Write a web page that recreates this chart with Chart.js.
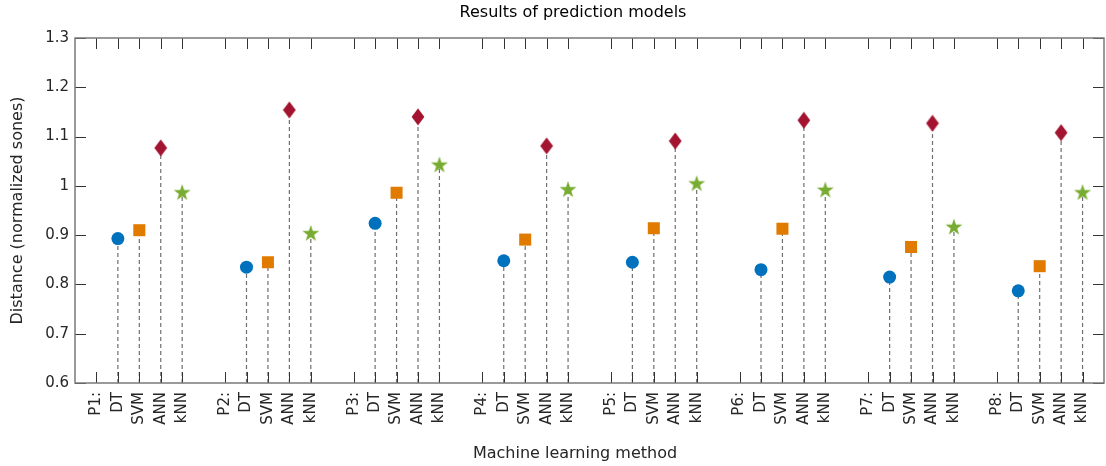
<!DOCTYPE html>
<html>
<head>
<meta charset="utf-8">
<script src="https://cdn.jsdelivr.net/npm/chart.js@4"></script>
<style>
  body { margin: 0; background: #fff; }
  #wrap { width: 1106px; height: 466px; }
</style>
</head>
<body>
<div id="wrap"><canvas id="myChart"></canvas></div>
<script>
const groups = ['P1:', 'P2:', 'P3:', 'P4:', 'P5:', 'P6:', 'P7:', 'P8:'];
const methods = ['DT', 'SVM', 'ANN', 'kNN'];
const dtVals  = [0.893, 0.835, 0.924, 0.848, 0.845, 0.830, 0.815, 0.787];
const svmVals = [0.910, 0.845, 0.986, 0.891, 0.914, 0.913, 0.876, 0.837];
const annVals = [1.077, 1.154, 1.140, 1.081, 1.091, 1.133, 1.127, 1.108];
const knnVals = [0.987, 0.904, 1.043, 0.993, 1.005, 0.992, 0.917, 0.987];
const yTicks = [0.6, 0.7, 0.8, 0.9, 1.0, 1.1, 1.2, 1.3];

const chartTitle = 'Results of prediction models';
const xTitle = 'Machine learning method';
const yTitle = 'Distance (normalized sones)';

const fontFam = "'DejaVu Sans', 'Liberation Sans', Arial, sans-serif";
const textColor = '#262626';
const baseY = 0.6;

// each group takes 6 slots: label, 4 methods, empty gap
let xTickPos = [];
let xTickLabels = [];
groups.forEach((g, i) => {
  xTickPos.push(1 + 6 * i);
  xTickLabels.push(g);
  methods.forEach((m, j) => {
    xTickPos.push(2 + j + 6 * i);
    xTickLabels.push(m);
  });
});

function points(vals, offset) {
  return vals.map((v, i) => ({ x: 2 + offset + 6 * i, y: v }));
}
function stems(vals, offset) {
  let out = [];
  vals.forEach((v, i) => {
    const x = 2 + offset + 6 * i;
    out.push({ x: x, y: baseY }, { x: x, y: v }, { x: x, y: null });
  });
  return out;
}

// marker images for the diamond and star
function diamondImg(color) {
  const c = document.createElement('canvas');
  c.width = 14; c.height = 18;
  const g = c.getContext('2d');
  g.fillStyle = color;
  g.beginPath();
  g.moveTo(7, 0.6); g.lineTo(13.4, 9); g.lineTo(7, 17.4); g.lineTo(0.6, 9);
  g.closePath();
  g.fill();
  return c;
}
function starImg(color) {
  const c = document.createElement('canvas');
  c.width = 20; c.height = 20;
  const g = c.getContext('2d');
  const R = 8.9, r = R * 0.382, cx = 10, cy = 10.6;
  g.fillStyle = color;
  g.beginPath();
  for (let k = 0; k < 10; k++) {
    const rad = k % 2 === 0 ? R : r;
    const a = -Math.PI / 2 + k * Math.PI / 5;
    const px = cx + rad * Math.cos(a), py = cy + rad * Math.sin(a);
    if (k === 0) g.moveTo(px, py); else g.lineTo(px, py);
  }
  g.closePath();
  g.fill();
  return c;
}

const blue = '#0072BD';
const orange = '#E07B00';
const red = '#A2142F';
const green = '#77AC30';

const stemStyle = {
  type: 'line',
  showLine: true,
  spanGaps: false,
  borderColor: '#707070',
  borderWidth: 1.2,
  borderDash: [4, 3],
  pointRadius: 0,
  order: 10
};

// box with inward ticks on all four sides, plus the title and x label
// (placed a bit left of the plot centre, as in the original figure)
const boxPlugin = {
  id: 'box',
  afterDraw(chart) {
    const { ctx, chartArea: a, scales: { x, y } } = chart;
    ctx.save();
    ctx.strokeStyle = '#333';
    ctx.lineWidth = 1;
    ctx.beginPath();
    xTickPos.forEach(v => {
      const px = Math.round(x.getPixelForValue(v)) + 0.5;
      ctx.moveTo(px, a.bottom); ctx.lineTo(px, a.bottom - 11);
      ctx.moveTo(px, a.top); ctx.lineTo(px, a.top + 11);
    });
    yTicks.forEach(v => {
      const py = Math.round(y.getPixelForValue(v)) + 0.5;
      ctx.moveTo(a.left, py); ctx.lineTo(a.left + 11, py);
      ctx.moveTo(a.right, py); ctx.lineTo(a.right - 11, py);
    });
    ctx.stroke();
    ctx.strokeStyle = '#7a7a7a';
    ctx.lineWidth = 1.5;
    ctx.strokeRect(a.left, a.top, a.right - a.left, a.bottom - a.top);

    ctx.font = '16px ' + fontFam;
    ctx.textAlign = 'center';
    ctx.textBaseline = 'middle';
    ctx.fillStyle = '#000';
    ctx.fillText(chartTitle, 573, 12.6);
    ctx.fillStyle = textColor;
    ctx.fillText(xTitle, 575, 453.4);
    ctx.restore();
  }
};

const ctx = document.getElementById('myChart');
const myChart = new Chart(ctx, {
  type: 'scatter',
  data: {
    datasets: [
      { label: 'DT', data: points(dtVals, 0), pointStyle: 'circle', pointRadius: 6.5,
        backgroundColor: blue, borderColor: blue, borderWidth: 0, order: 0 },
      { label: 'SVM', data: points(svmVals, 1), pointStyle: 'rect', pointRadius: 8.5,
        backgroundColor: orange, borderColor: orange, borderWidth: 0, order: 0 },
      { label: 'ANN', data: points(annVals, 2), pointStyle: diamondImg(red),
        backgroundColor: red, order: 0 },
      { label: 'kNN', data: points(knnVals, 3), pointStyle: starImg(green),
        backgroundColor: green, order: 0 },
      Object.assign({ label: 'DT stem', data: stems(dtVals, 0) }, stemStyle),
      Object.assign({ label: 'SVM stem', data: stems(svmVals, 1) }, stemStyle),
      Object.assign({ label: 'ANN stem', data: stems(annVals, 2) }, stemStyle),
      Object.assign({ label: 'kNN stem', data: stems(knnVals, 3) }, stemStyle)
    ]
  },
  options: {
    responsive: true,
    maintainAspectRatio: false,
    animation: false,
    events: [],
    layout: { autoPadding: false, padding: { left: 0, right: 2, top: 38, bottom: 0 } },
    scales: {
      x: {
        type: 'linear',
        min: 0,
        max: 48,
        afterBuildTicks: (scale) => { scale.ticks = xTickPos.map(v => ({ value: v })); },
        afterFit: (scale) => { scale.height = 83; },
        // tick marks are drawn by the box plugin; tickLength only offsets the labels
        grid: { display: false, drawTicks: true, tickLength: 9 },
        border: { display: false },
        ticks: {
          autoSkip: false,
          maxRotation: 90,
          minRotation: 90,
          padding: 0,
          color: textColor,
          font: { family: fontFam, size: 15 },
          callback: (value) => xTickLabels[xTickPos.indexOf(value)]
        },
        title: { display: false }
      },
      y: {
        min: 0.6,
        max: 1.3,
        afterBuildTicks: (scale) => { scale.ticks = yTicks.map(v => ({ value: v })); },
        afterFit: (scale) => { scale.width = 75; },
        grid: { display: false, drawTicks: false },
        border: { display: false },
        ticks: {
          padding: 6,
          color: textColor,
          font: { family: fontFam, size: 15 },
          callback: (value) => String(+value.toFixed(1))
        },
        title: {
          display: true,
          text: yTitle,
          color: textColor,
          font: { family: fontFam, size: 16 },
          padding: { top: 8, bottom: 0 }
        }
      }
    },
    plugins: {
      legend: { display: false },
      tooltip: { enabled: false },
      title: { display: false }
    }
  },
  plugins: [boxPlugin]
});
</script>
</body>
</html>
